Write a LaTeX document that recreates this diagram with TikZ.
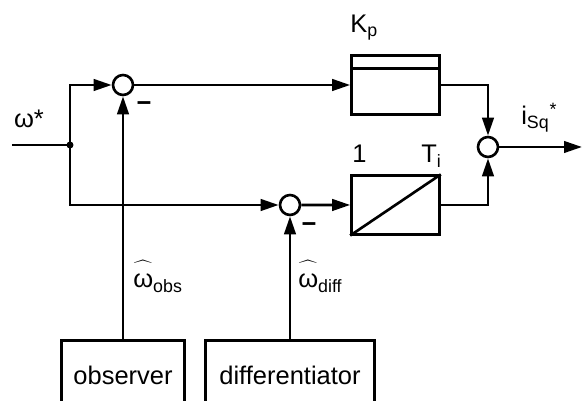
\documentclass[tikz,border=0pt]{standalone}
\usepackage{fontspec}
\setmainfont{Liberation Sans}
\usetikzlibrary{arrows.meta,positioning}
\newcommand{\omhat}{\makebox[0pt][l]{\raisebox{0.32em}{$\widehat{\mbox{\phantom{ω}}}$}}ω}

\begin{document}
\begin{tikzpicture}[x=0.02cm,y=-0.02cm,node distance=3cm,line width=1.5pt,
    >={Triangle[length=0.36cm,width=0.23cm]},
    font=\fontsize{14.5}{17}\selectfont,
    sumnode/.style={draw,circle,minimum size=0.4cm,inner sep=0pt},
    block/.style={draw,rectangle,minimum width=1.76cm,minimum height=1.17cm},
    label text/.style={inner sep=0pt}]
    \useasboundingbox (0,0) rectangle (583,401);

    % forward path
    \coordinate (in) at (12,145);
    \coordinate (split) at (70,145);
    \node (sum1) [sumnode] at (123,85) {};
    \node (kp) [block] at (395.5,85) {};
    \draw ([yshift=-0.28cm]kp.north west) -- ([yshift=-0.28cm]kp.north east);
    \node (integ) [block, below of=kp, yshift=0.6cm] {};
    \draw (integ.south west) -- (integ.north east);
    \node (sum2) [sumnode] at (290,205) {};
    \node (sum3) [sumnode] at (488,147) {};
    \coordinate (out) at (582,147);

    % feedback sources, open at the bottom
    \node (obs) [minimum width=2.42cm, minimum height=1.32cm] at (123,375) {observer};
    \node (diff) [minimum width=3.34cm, minimum height=1.32cm] at (290,375) {differentiator};
    \draw (obs.south west) -- (obs.north west) -- (obs.north east) -- (obs.south east);
    \draw (diff.south west) -- (diff.north west) -- (diff.north east) -- (diff.south east);

    \draw (in) -- (split);
    \fill (split) circle (0.07cm);
    \draw[->] (split) |- (sum1.west);
    \draw[->] (split) |- (sum2.west);
    \draw[->] (sum1.east) -- (kp.west);
    \draw[->] (sum2.east) -- (integ.west);
    \draw[->] (obs.north) -- (sum1.south);
    \draw[->] (diff.north) -- (sum2.south);
    \draw[->] (kp.east) -| (sum3.north);
    \draw[->] (integ.east) -| (sum3.south);
    \draw[->] (sum3.east) -- (out);

    % labels
    \node at (29,119) {ω*};
    \node at (144,107) {\textbf{−}};
    \node at (309,228) {\textbf{−}};
    \node [label text, anchor=base west] at (349,33) {K\textsubscript{p}};
    \node [label text, anchor=base] at (359.5,163) {1};
    \node [label text, anchor=base west] at (420,163) {T\textsubscript{i}};
    \node [label text, anchor=base west] at (520,125) {i\textsubscript{Sq}\textsuperscript{*}};
    \node [label text, anchor=base west] at (132,288) {\omhat\textsubscript{obs}};
    \node [label text, anchor=base west] at (297,288) {\omhat\textsubscript{diff}};
\end{tikzpicture}
\end{document}
